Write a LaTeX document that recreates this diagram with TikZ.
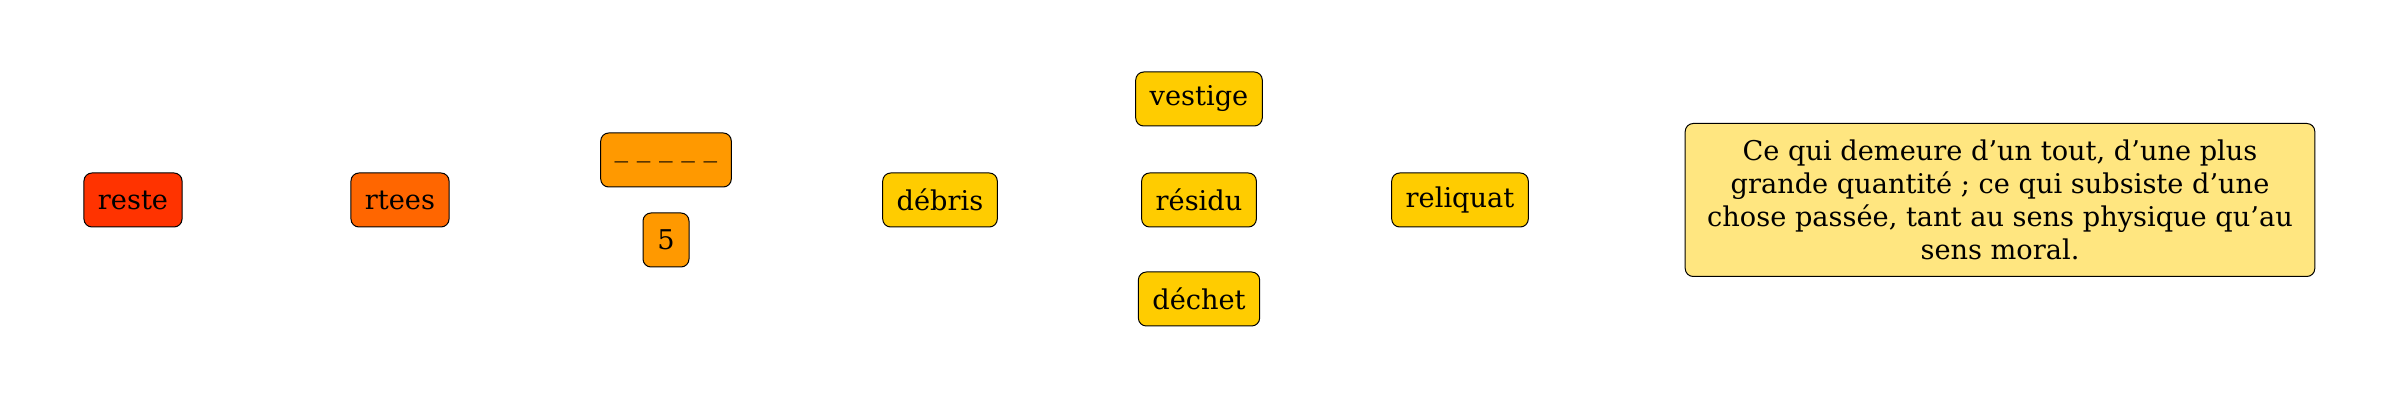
\documentclass[tikz,border=0pt]{standalone}
\usepackage{fontspec}
\setmainfont{DejaVu Serif}
\usepackage{xcolor}
\usepackage{tikz}
\usetikzlibrary{positioning}
\definecolor{resteRed}{RGB}{255, 51, 0}
\definecolor{anagramOrange}{RGB}{255, 102, 0}
\definecolor{puzzleOrange}{RGB}{255, 153, 0}
\definecolor{synonymYellow}{RGB}{255, 204, 0}
\definecolor{definitionYellow}{RGB}{255, 230, 128}

\begin{document}
\begin{tikzpicture}[
    x=0.5pt, y=-0.5pt,
    term/.style={rectangle, rounded corners=4pt, draw=black, line width=0.5pt, fill=#1, minimum width=23pt, minimum height=27pt, inner xsep=7pt, inner ysep=0pt, align=center, font=\fontsize{13.6}{16.5}\selectfont},
    definition/.style={term=#1, inner xsep=11pt, minimum height=76.5pt}
]
    \useasboundingbox (0,0) rectangle (2400,400);
    \node[term=resteRed] (reste) at (133,200) {reste};
    \node[term=anagramOrange] (rtees) at (400,200) {rtees};
    \node[term=puzzleOrange] (blanks) at (666,160) {\_ \_ \_ \_ \_};
    \node[term=puzzleOrange] (count) at (666,240) {5};
    \node[term=synonymYellow] (debris) at (940,200) {débris};
    \node[term=synonymYellow] (vestige) at (1199,99) {vestige};
    \node[term=synonymYellow] (residu) at (1199,200) {résidu};
    \node[term=synonymYellow] (dechet) at (1199,299) {déchet};
    \node[term=synonymYellow] (reliquat) at (1460,200) {reliquat};
    \node[definition=definitionYellow] (sens) at (2000,200) {Ce qui demeure d’un tout, d’une plus\\grande quantité ; ce qui subsiste d’une\\chose passée, tant au sens physique qu’au\\sens moral.};
\end{tikzpicture}
\end{document}
